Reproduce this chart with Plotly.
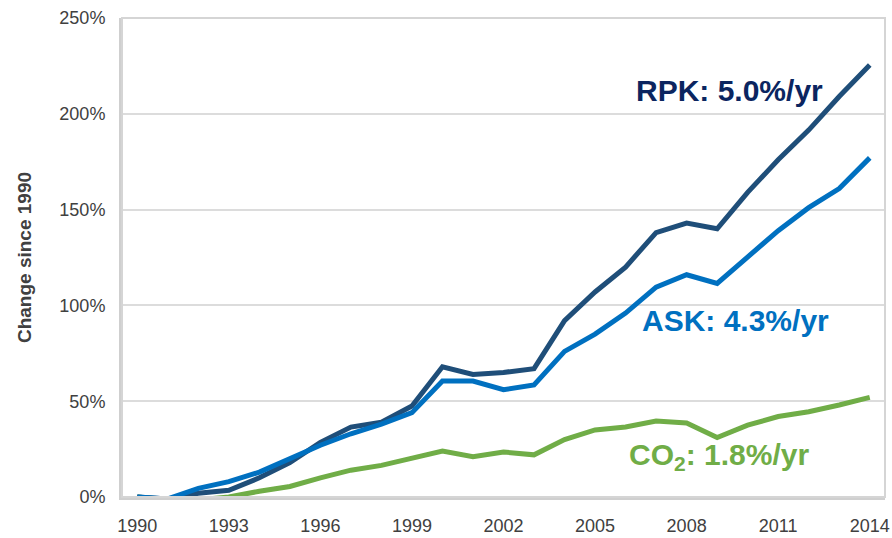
import plotly.graph_objects as go

years = list(range(1990, 2015))
rpk = [0, -1, 2, 3.5, 10, 18, 28.5, 36.5, 39, 47.5, 68, 64, 65, 67, 92, 107, 120, 138, 143, 140, 159, 176, 191.5, 209, 225.5]
ask = [0, -1, 4.5, 8, 13, 20, 27, 33, 38, 44, 60.5, 60.5, 56, 58.5, 76, 85, 96, 109.5, 116, 111.5, 125, 139, 151, 161, 177]
co2 = [0, -1.5, -1.5, 0, 3, 5.5, 10, 14, 16.5, 20, 24, 21, 23.5, 22, 30, 35, 36.5, 39.7, 38.6, 31, 37.5, 42, 44.5, 48, 52]

y_ticks = [0, 50, 100, 150, 200, 250]
y_tick_labels = ["0%", "50%", "100%", "150%", "200%", "250%"]

C_RPK = "#1F4E79"
C_ASK = "#0070C0"
C_CO2 = "#70AD47"

fig = go.Figure()
fig.add_trace(go.Scatter(x=years, y=co2, mode="lines", line=dict(color=C_CO2, width=5), name="CO2"))
fig.add_trace(go.Scatter(x=years, y=rpk, mode="lines", line=dict(color=C_RPK, width=5), name="RPK"))
fig.add_trace(go.Scatter(x=years, y=ask, mode="lines", line=dict(color=C_ASK, width=5), name="ASK"))

font_ann = dict(family="Liberation Sans, Arial", size=30)
fig.add_annotation(x=2009.4, y=212, text="<b>RPK: 5.0%/yr</b>", showarrow=False,
                   font=dict(color="#0B2560", **font_ann))
fig.add_annotation(x=2009.6, y=92, text="<b>ASK: 4.3%/yr</b>", showarrow=False,
                   font=dict(color=C_ASK, **font_ann))
fig.add_annotation(x=2009.05, y=21, text="<b>CO<sub>2</sub>: 1.8%/yr</b>", showarrow=False,
                   font=dict(color=C_CO2, **font_ann))

fig.update_layout(
    width=892, height=538,
    margin=dict(l=122, r=7, t=18, b=41),
    paper_bgcolor="white", plot_bgcolor="white",
    showlegend=False,
    font=dict(family="Liberation Sans, Arial", size=18, color="#404040"),
    xaxis=dict(range=[1989.5, 2014.5], tickmode="linear", tick0=1990, dtick=3,
               showgrid=False, showline=True, linecolor="#CFCFCF", linewidth=3,
               mirror=False, ticks="", ticklabelstandoff=10, zeroline=False,
               automargin=False,
               tickfont=dict(size=18, color="#404040")),
    yaxis=dict(range=[0, 250], tickvals=y_ticks, ticktext=y_tick_labels,
               showgrid=True, gridcolor="#DCDCDC", gridwidth=1.5,
               showline=True, linecolor="#CFCFCF", linewidth=3, zeroline=False,
               ticks="", ticklabelstandoff=10, automargin=False,
               tickfont=dict(size=18, color="#404040"),
               title=dict(text="<b>Change since 1990</b>", font=dict(size=19, color="#404040"), standoff=23)),
)
fig.add_shape(type="rect", xref="paper", yref="paper", x0=0, x1=1, y0=0, y1=1,
              line=dict(color="#D5D5D5", width=2), layer="above")
fig.write_html("out.html", config={"displayModeBar": False},
               post_script="document.body.style.margin='0';document.body.style.overflow='hidden';")
